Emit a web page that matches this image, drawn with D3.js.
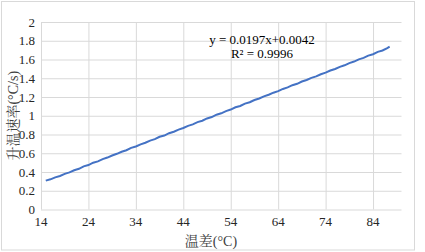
<!DOCTYPE html>
<html>
<head>
<meta charset="utf-8">
<script src="https://cdn.jsdelivr.net/npm/d3@7"></script>
<style>
  body { margin: 0; background: #fff; }
</style>
</head>
<body>
<svg id="chart" width="425" height="252"></svg>
<script>
// temperature difference (°C) and heating rate (°C/s)
const tempDiff = [15,16,17,18,19,20,21,22,23,24,25,26,27,28,29,30,31,32,33,34,35,36,37,38,39,40,
  41,42,43,44,45,46,47,48,49,50,51,52,53,54,55,56,57,58,59,60,61,62,63,64,65,66,67,68,69,70,
  71,72,73,74,75,76,77,78,79,80,81,82,83,84,85,86,87,87.5]
const heatRate = [0.308,0.322,0.343,0.357,0.380,0.396,0.419,0.434,0.460,0.474,0.499,0.513,0.537,0.554,0.576,0.594,0.616,0.632,0.657,0.672,0.695,0.712,0.735,0.750,0.776,0.789,
  0.814,0.830,0.852,0.869,0.892,0.908,0.932,0.947,0.971,0.986,1.011,1.026,1.049,1.066,1.090,1.104,1.129,1.144,1.168,1.184,1.207,1.224,1.246,1.263,1.286,1.302,1.326,1.341,1.365,1.381,
  1.404,1.420,1.443,1.460,1.483,1.499,1.522,1.538,1.562,1.578,1.602,1.617,1.641,1.656,1.681,1.696,1.722,1.738]
const xTicks = [14,24,34,44,54,64,74,84]
const yTicks = [0,0.2,0.4,0.6,0.8,1,1.2,1.4,1.6,1.8,2]
const trendText = ["y = 0.0197x+0.0042", "R² = 0.9996"]

const svg = d3.select("#chart")
const margin = {left: 41, top: 22, right: 23.5, bottom: 42.5}
const W = 425, H = 252
const serif = '"Liberation Serif", "Times New Roman", serif'
const cjk = '"Liberation Serif", "Noto Serif CJK SC", serif'

// outer chart border
svg.append("rect")
  .attr("x", 1.5).attr("y", 1.5)
  .attr("width", 413).attr("height", 248.5)
  .attr("fill", "none").attr("stroke", "#d9d9d9")

const x = d3.scaleLinear().domain([14, 90]).range([margin.left, W - margin.right])
const y = d3.scaleLinear().domain([0, 2]).range([H - margin.bottom, margin.top])

// gridlines
svg.append("g")
  .attr("transform", `translate(${margin.left},0)`)
  .call(d3.axisLeft(y).tickValues(yTicks).tickSize(-(x.range()[1] - margin.left)).tickFormat(""))
  .call(g => g.select(".domain").remove())
  .selectAll("line").attr("stroke", "#d9d9d9")

svg.append("g")
  .attr("transform", `translate(0,${margin.top})`)
  .call(d3.axisBottom(x).tickValues(xTicks).tickSize(y.range()[0] - margin.top).tickFormat(""))
  .call(g => g.select(".domain").remove())
  .selectAll("line").attr("stroke", "#d9d9d9")

// tick labels
svg.append("g")
  .style("font-family", serif)
  .attr("font-size", 13)
  .attr("fill", "#262626")
  .selectAll("text")
  .data(yTicks)
  .join("text")
  .attr("x", 35)
  .attr("y", d => y(d))
  .attr("dy", "0.35em")
  .attr("text-anchor", "end")
  .text(d => d)

svg.append("g")
  .style("font-family", serif)
  .attr("font-size", 13)
  .attr("fill", "#262626")
  .selectAll("text")
  .data(xTicks)
  .join("text")
  .attr("x", d => x(d))
  .attr("y", 226)
  .attr("text-anchor", "middle")
  .text(d => d)

// axis titles
svg.append("text")
  .attr("transform", `translate(18,${(margin.top + y.range()[0]) / 2}) rotate(-90)`)
  .attr("text-anchor", "middle")
  .style("font-family", cjk)
  .attr("font-size", 14)
  .attr("fill", "#404040")
  .text("升温速率(°C/s)")

svg.append("text")
  .attr("x", 211)
  .attr("y", 246)
  .attr("text-anchor", "middle")
  .style("font-family", cjk)
  .attr("font-size", 14)
  .attr("fill", "#404040")
  .text("温差(°C)")

// data line
const line = d3.line()
  .x((d, i) => x(tempDiff[i]))
  .y(d => y(d))

svg.append("path")
  .datum(heatRate)
  .attr("fill", "none")
  .attr("stroke", "#4472c4")
  .attr("stroke-width", 2)
  .attr("d", line)

// trendline equation
svg.append("g")
  .style("font-family", serif)
  .attr("font-size", 13)
  .attr("fill", "#000")
  .selectAll("text")
  .data(trendText)
  .join("text")
  .attr("x", 262)
  .attr("y", (d, i) => 44 + i * 14)
  .attr("text-anchor", "middle")
  .text(d => d)
</script>
</body>
</html>
